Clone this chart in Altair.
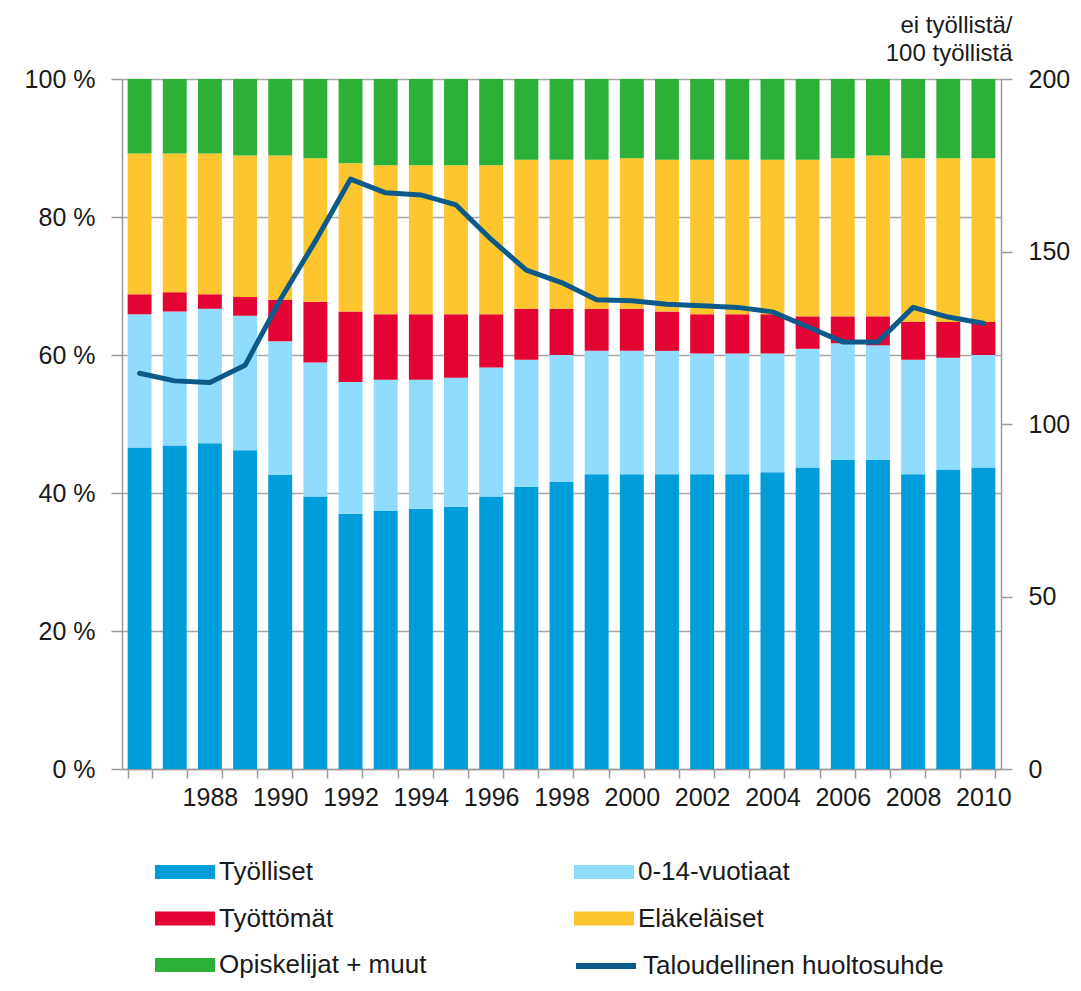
import altair as alt
import pandas as pd

years = [1986, 1987, 1988, 1989, 1990, 1991, 1992, 1993, 1994, 1995, 1996, 1997,
         1998, 1999, 2000, 2001, 2002, 2003, 2004, 2005, 2006, 2007, 2008, 2009, 2010]

tyolliset = [46.6, 46.9, 47.2, 46.2, 42.6, 39.5, 37.0, 37.4, 37.7, 38.0, 39.5, 40.9,
             41.6, 42.7, 42.7, 42.7, 42.7, 42.7, 43.0, 43.7, 44.8, 44.8, 42.7, 43.4, 43.7]
lapset = [19.3, 19.4, 19.5, 19.5, 19.4, 19.4, 19.1, 19.0, 18.7, 18.7, 18.7, 18.4,
          18.4, 17.9, 17.9, 17.9, 17.5, 17.5, 17.2, 17.2, 16.9, 16.6, 16.6, 16.2, 16.3]
tyottomat = [2.9, 2.8, 2.1, 2.7, 6.0, 8.8, 10.2, 9.5, 9.5, 9.2, 7.7, 7.4,
             6.7, 6.1, 6.1, 5.7, 5.7, 5.7, 5.7, 4.7, 3.9, 4.2, 5.5, 5.2, 4.8]
elakelaiset = [20.4, 20.1, 20.4, 20.5, 20.9, 20.8, 21.5, 21.6, 21.6, 21.6, 21.6, 21.6,
               21.6, 21.6, 21.8, 22.0, 22.4, 22.4, 22.4, 22.7, 22.9, 23.3, 23.7, 23.7, 23.7]
opiskelijat = [10.8, 10.8, 10.8, 11.1, 11.1, 11.5, 12.2, 12.5, 12.5, 12.5, 12.5, 11.7,
               11.7, 11.7, 11.5, 11.7, 11.7, 11.7, 11.7, 11.7, 11.5, 11.1, 11.5, 11.5, 11.5]
huoltosuhde = [114.7, 112.5, 112.0, 117.0, 136.0, 153.0, 171.0, 167.0, 166.4, 163.5, 153.5, 144.6,
               141.0, 136.0, 135.7, 134.7, 134.3, 133.8, 132.5, 128.2, 123.8, 123.8, 133.8, 131.0, 129.2]

# stacking order (bottom -> top)
categories = ["Työlliset", "0-14-vuotiaat", "Työttömät", "Eläkeläiset", "Opiskelijat + muut"]
colors = ["#009ddb", "#8fdcff", "#e30433", "#fec62e", "#2db038"]
# legend order (filled column by column)
legend_order = ["Työlliset", "Työttömät", "Opiskelijat + muut", "0-14-vuotiaat", "Eläkeläiset"]
line_name = "Taloudellinen huoltosuhde"
line_color = "#0b5a8a"
right_title = ["ei työllistä/", "100 työllistä"]

series = [tyolliset, lapset, tyottomat, elakelaiset, opiskelijat]
rows = []
for i, yr in enumerate(years):
    for k, cat in enumerate(categories):
        rows.append({"year": yr, "category": cat, "order": k, "value": series[k][i]})
bars_df = pd.DataFrame(rows)
line_df = pd.DataFrame({"year": years, "series": [line_name] * len(years), "ratio": huoltosuhde})

color_of = dict(zip(categories, colors))
legend_colors = [color_of[c] for c in legend_order]

FONT = "Liberation Sans"
TXT = "#1a1a1a"
GRAY = "#9a9a9a"

x_axis = alt.Axis(
    title=None, labelAngle=0, labelOverlap=False, tickBand="extent",
    labelExpr="(datum.value % 2 == 0 && datum.value > 1986) ? datum.label : ''",
    labelFont=FONT, labelFontSize=25, labelColor=TXT, labelPadding=7,
    tickSize=9, tickColor=GRAY, domainColor=GRAY, domainWidth=1.5, tickWidth=1.5,
)
x_enc = alt.X("year:O", scale=alt.Scale(paddingInner=0.32, paddingOuter=0.16), axis=x_axis)

bars = alt.Chart(bars_df).mark_bar(strokeWidth=0).encode(
    x=x_enc,
    y=alt.Y("value:Q", stack="zero",
            scale=alt.Scale(domain=[0, 100], nice=False, zero=True),
            axis=alt.Axis(title=None, values=[0, 20, 40, 60, 80, 100],
                          labelExpr="datum.value + ' %'",
                          labelFont=FONT, labelFontSize=25, labelColor=TXT, labelPadding=16,
                          tickSize=11, tickColor=GRAY, tickWidth=1.5,
                          domainColor=GRAY, domainWidth=1.5,
                          grid=True, gridColor="#a6a6a6", gridWidth=1.5)),
    color=alt.Color("category:N",
                    scale=alt.Scale(domain=legend_order, range=legend_colors),
                    legend=alt.Legend(title=None, orient="none", legendX=33, legendY=763,
                                      columns=2, columnPadding=147, rowPadding=3.5,
                                      symbolType="M-1,-0.233H1V0.233H-1Z", symbolSize=3600,
                                      symbolStrokeWidth=0,
                                      labelFont=FONT, labelFontSize=26, labelColor=TXT,
                                      labelOffset=4, labelLimit=400)),
    order=alt.Order("order:Q", sort="ascending"),
)

line = alt.Chart(line_df).mark_line(strokeWidth=5, strokeCap="round", strokeJoin="round").encode(
    x=alt.X("year:O"),
    y=alt.Y("ratio:Q",
            scale=alt.Scale(domain=[0, 200], nice=False),
            axis=alt.Axis(orient="right", values=[0, 50, 100, 150, 200], grid=False,
                          title=right_title, titleAngle=0, titleAlign="right",
                          titleBaseline="alphabetic", titleX=11, titleY=-47,
                          titleFont=FONT, titleFontSize=24, titleFontWeight="normal",
                          titleColor=TXT, titleLineHeight=28,
                          labelFont=FONT, labelFontSize=25, labelColor=TXT, labelPadding=16,
                          tickSize=11, tickColor=GRAY, tickWidth=1.5,
                          domainColor=GRAY, domainWidth=1.5)),
    stroke=alt.Stroke("series:N", scale=alt.Scale(domain=[line_name], range=[line_color]),
                      legend=alt.Legend(title=None, orient="none", legendX=451, legendY=854,
                                        symbolType="stroke", symbolSize=3600,
                                        symbolStrokeWidth=6,
                                        labelFont=FONT, labelFontSize=26, labelColor=TXT,
                                        labelOffset=4, labelLimit=400)),
)

chart = alt.layer(bars, line).resolve_scale(
    y="independent", color="independent", stroke="independent"
).properties(
    width=879, height=690,
    padding={"left": 114, "top": 71, "right": 72, "bottom": 211},
    autosize=alt.AutoSizeParams(type="none"),
    background="white",
).configure_view(stroke=None)

chart.save("out.html", embed_options={"renderer": "svg", "actions": False})
